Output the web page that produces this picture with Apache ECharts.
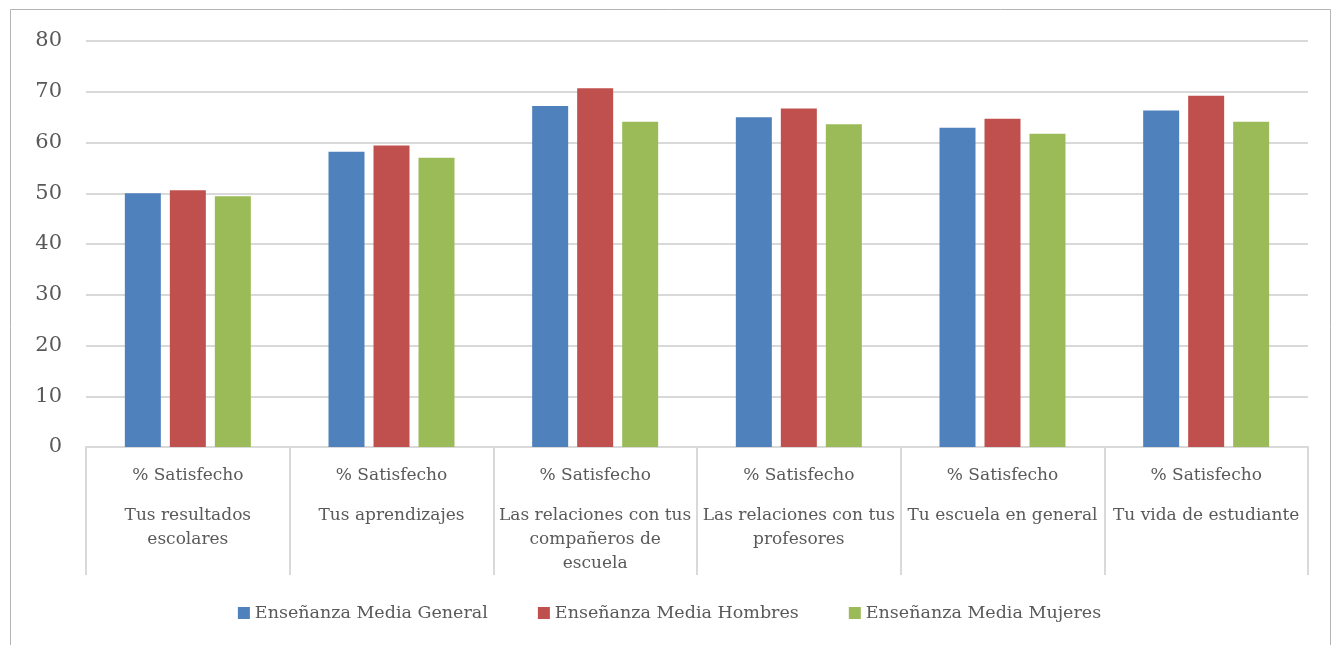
<!DOCTYPE html>
<html>
<head>
<meta charset="utf-8">
<script src="https://cdn.jsdelivr.net/npm/echarts@6/dist/echarts.min.js"></script>
<style>
  html, body { margin: 0; padding: 0; background: #fff; }
  #main { width: 1339px; height: 645px; }
</style>
</head>
<body>
<div id="main"></div>
<script>
// categories (line breaks as in the original labels)
var categories = [
    'Tus resultados\nescolares',
    'Tus aprendizajes',
    'Las relaciones con tus\ncompañeros de\nescuela',
    'Las relaciones con tus\nprofesores',
    'Tu escuela en general',
    'Tu vida de estudiante'
];
var groupLabel = '% Satisfecho';

var seriesNames = [
    'Enseñanza Media General',
    'Enseñanza Media Hombres',
    'Enseñanza Media Mujeres'
];
var general = [50.0, 58.2, 67.2, 65.0, 62.9, 66.3];
var hombres = [50.6, 59.4, 70.7, 66.7, 64.7, 69.2];
var mujeres = [49.4, 57.0, 64.1, 63.6, 61.7, 64.1];

var yTicks = [0, 10, 20, 30, 40, 50, 60, 70, 80];

const _colors = ['#4f81bd', '#c0504d', '#9bbb59'];
const _font = "'DejaVu Serif', 'Liberation Serif', serif";

function initChart(divId) {
    var dom = document.getElementById(divId);
    var myChart = echarts.init(dom, null, { renderer: 'canvas' });

    var values = [general, hombres, mujeres];
    var series = [];
    for (var i = 0; i < seriesNames.length; i++) {
        series.push({
            name: seriesNames[i],
            type: 'bar',
            data: values[i],
            barWidth: 36,
            barGap: '25%',
            itemStyle: { color: _colors[i] }
        });
    }

    var option = {
        animation: false,
        color: _colors,
        textStyle: { fontFamily: _font },
        graphic: [{
            type: 'rect',
            shape: { x: 10.5, y: 9.5, width: 1320, height: 660 },
            style: { fill: 'none', stroke: '#b4b4b4', lineWidth: 1 },
            silent: true
        }],
        grid: { left: 86, right: 31, top: 41, bottom: 198 },
        legend: {
            bottom: 18,
            left: 'center',
            icon: 'rect',
            itemWidth: 12,
            itemHeight: 12,
            itemGap: 50,
            textStyle: { color: '#595959', fontSize: 17.5, fontFamily: _font },
            data: seriesNames
        },
        xAxis: {
            type: 'category',
            data: categories,
            axisLine: { lineStyle: { color: '#d9d9d9', width: 2 } },
            axisTick: { show: true, length: 128, lineStyle: { color: '#d9d9d9', width: 2 } },
            axisLabel: {
                interval: 0,
                margin: 1,
                formatter: function (v) {
                    var lines = v.split('\n').map(function (s) { return '{b|' + s + '}'; });
                    return '{a|' + groupLabel + '}\n' + lines.join('\n');
                },
                rich: {
                    a: { fontSize: 17, lineHeight: 56, color: '#595959', fontFamily: _font },
                    b: { fontSize: 17, lineHeight: 24, color: '#595959', fontFamily: _font }
                }
            }
        },
        yAxis: {
            type: 'value',
            min: yTicks[0],
            max: yTicks[yTicks.length - 1],
            interval: 10,
            axisLine: { show: false },
            axisTick: { show: false },
            axisLabel: { color: '#595959', fontSize: 21, margin: 24, fontFamily: _font },
            splitLine: { lineStyle: { color: '#d9d9d9', width: 2 } }
        },
        series: series
    };

    myChart.setOption(option);
    window.addEventListener('resize', myChart.resize);
}

initChart('main');
</script>
</body>
</html>
